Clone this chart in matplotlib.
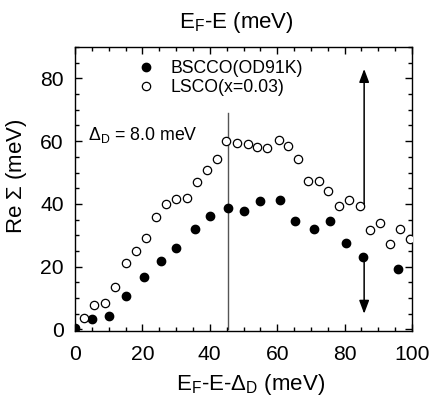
import numpy as np
import matplotlib
matplotlib.use('Agg')
import matplotlib.pyplot as plt
from matplotlib.ticker import MultipleLocator

plt.rcParams['font.family'] = ['Liberation Sans', 'DejaVu Sans']
plt.rcParams['mathtext.default'] = 'regular'

#### Data ############################################
# BSCCO (OD91K), filled circles
bscco_x = [0, 5, 10, 15.2, 20.5, 25.4, 30, 35.7, 40.1, 45.5, 50.2, 54.9,
           60.7, 65.2, 70.8, 75.7, 80.4, 85.6, 95.7]
bscco_y = [0.6, 3.2, 4.3, 10.5, 16.7, 21.9, 25.8, 31.9, 36.3, 38.7, 37.8, 41.0,
           41.4, 34.5, 31.9, 34.5, 27.7, 23.0, 19.2]
# LSCO (x=0.03), open circles
lsco_x = [2.7, 5.5, 8.8, 12, 15, 18.1, 21.1, 24.1, 27.1, 30.1, 33.1, 36.2,
          39.2, 42, 44.8, 48.2, 51.3, 54.1, 57.1, 60.5, 63.2, 66.3, 69.1, 72.3,
          75.1, 78.3, 81.4, 84.6, 87.6, 90.5, 93.4, 96.5, 99.5]
lsco_y = [3.7, 7.8, 8.5, 13.4, 21.3, 25.0, 29.2, 35.7, 40.0, 41.7, 42.0, 47.1,
          50.9, 54.4, 59.9, 59.5, 59.0, 58.1, 57.9, 60.5, 58.3, 54.3, 47.3, 47.3,
          44.0, 39.2, 41.4, 39.4, 31.7, 33.9, 27.1, 31.9, 28.7]
labels = ['BSCCO(OD91K)', 'LSCO(x=0.03)']

# vertical marker line and the two arrows
vline_x, vline_top = 45.3, 69
arrow_x = 85.8
up_start, up_end = 40.0, 83.0
down_start, down_end = 21.5, 5.0
#####################################################

fig = plt.figure(figsize=(4.29, 3.99), dpi=100)
ax = fig.add_axes([75/429, 1 - 331/399, 337/429, 284/399])

ax.plot([vline_x, vline_x], [0, vline_top], color='#555555', lw=1.0, zorder=1)

ax.plot(bscco_x, bscco_y, 'o', ms=6, mfc='black', mec='black', mew=1.0,
        label=labels[0], zorder=3)
ax.plot(lsco_x, lsco_y, 'o', ms=6, mfc='white', mec='black', mew=0.9,
        label=labels[1], zorder=3)

# arrows
ax.plot([lsco_x[27] + 1.0, arrow_x], [up_start, up_start], color='black', lw=1.1)
ax.annotate('', xy=(arrow_x, up_end), xytext=(arrow_x, up_start),
            arrowprops=dict(arrowstyle='-|>,head_length=0.8,head_width=0.3',
                            color='black', lw=1.1, shrinkA=0, shrinkB=0))
ax.annotate('', xy=(arrow_x, down_end), xytext=(arrow_x, down_start),
            arrowprops=dict(arrowstyle='-|>,head_length=0.8,head_width=0.3',
                            color='black', lw=1.1, shrinkA=0, shrinkB=0))

ax.text(4, 60.3, r'$\Delta_D$ = 8.0 meV', fontsize=12.8, va='baseline')

ax.legend(loc='upper left', bbox_to_anchor=(0.188, 0.955), frameon=False,
          fontsize=12.7, handlelength=0.9, handletextpad=0.9, labelspacing=0.15,
          borderpad=0, borderaxespad=0)

ax.set_xlim(0, 100)
ax.set_ylim(-0.5, 90)
ax.xaxis.set_major_locator(MultipleLocator(20))
ax.xaxis.set_minor_locator(MultipleLocator(5))
ax.yaxis.set_major_locator(MultipleLocator(20))
ax.yaxis.set_minor_locator(MultipleLocator(5))
ax.tick_params(which='both', direction='in', top=True, right=True, width=1)
ax.tick_params(which='major', length=5)
ax.tick_params(which='minor', length=3)
ax.tick_params(axis='x', which='major', labelsize=15.2, pad=10)
ax.tick_params(axis='y', which='major', labelsize=15.2, pad=8)
for s in ax.spines.values():
    s.set_linewidth(1.0)

fig.text(236/429, 1 - 27.7/399, r'E$_F$-E (meV)', fontsize=16,
         ha='center', va='baseline')
fig.text(251/429, 1 - 390/399, r'E$_F$-E-$\Delta_D$ (meV)', fontsize=16,
         ha='center', va='baseline')
fig.text(17/429, 1 - 176/399, r'Re $\Sigma$ (meV)', fontsize=16,
         rotation=90, ha='center', va='center')

fig.savefig('out.png', dpi=100)
